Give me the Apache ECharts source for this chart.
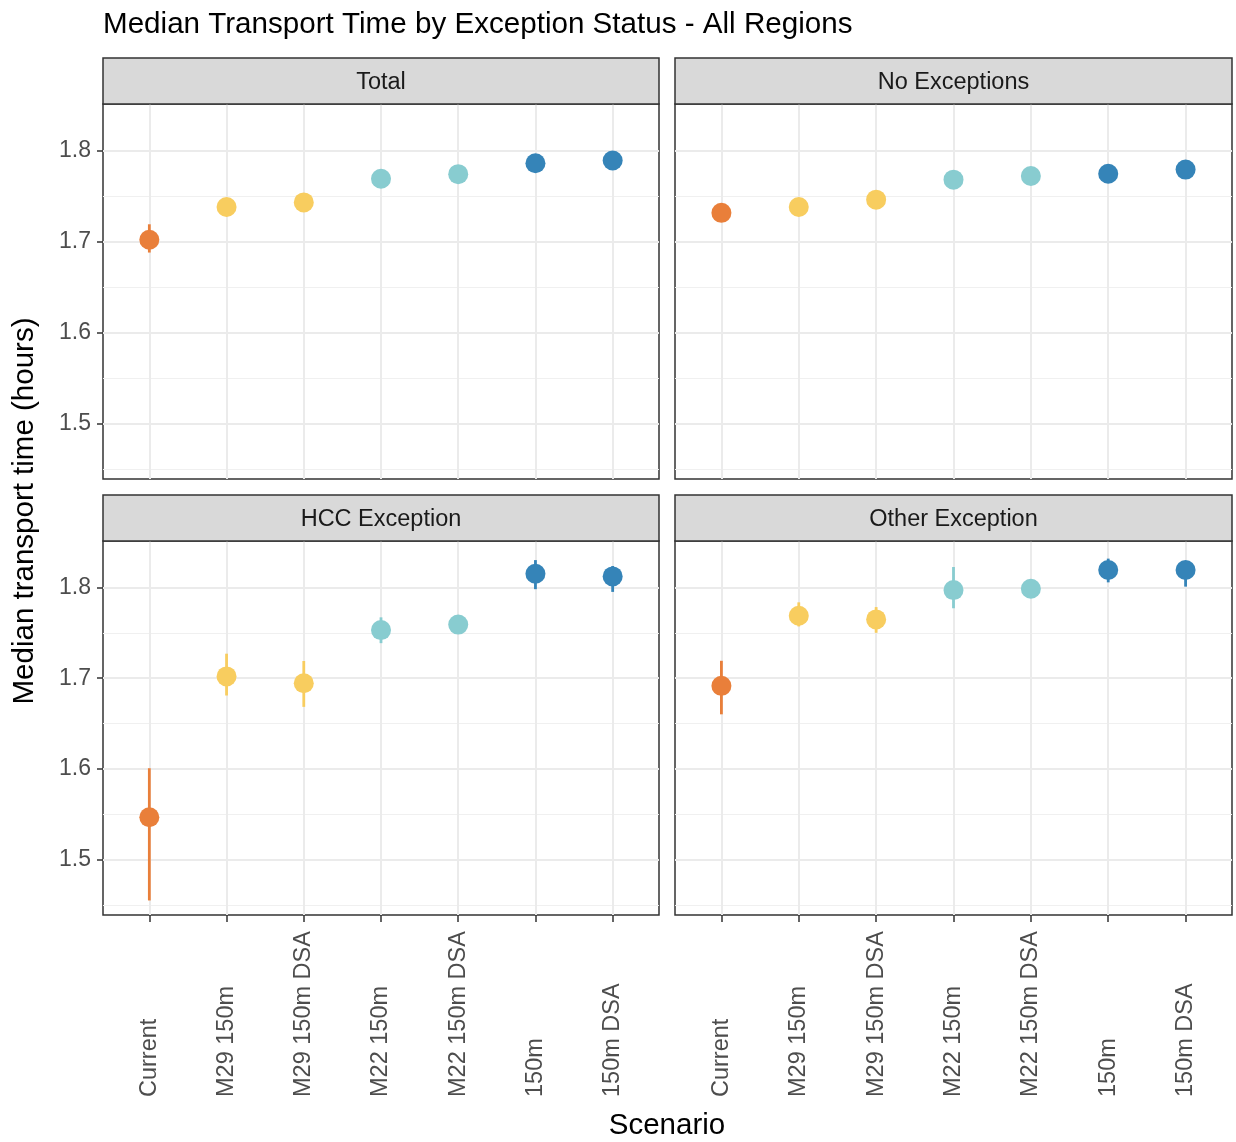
<!DOCTYPE html>
<html>
<head>
<meta charset="utf-8">
<script src="https://cdn.jsdelivr.net/npm/echarts@6/dist/echarts.min.js"></script>
<style>html,body{margin:0;padding:0;background:#fff;}#c{width:1236px;height:1142px;}</style>
</head>
<body>
<div id="c"></div>
<script>
const categories = ['Current','M29 150m','M29 150m DSA','M22 150m','M22 150m DSA','150m','150m DSA'];
const panels = ['Total','No Exceptions','HCC Exception','Other Exception'];
const yMajorTicks = [1.5,1.6,1.7,1.8];
const yMinorTicks = [1.45,1.55,1.65,1.75];

const totalMedian = [1.702,1.738,1.743,1.769,1.774,1.786,1.789];
const totalLo     = [1.688,1.733,1.738,1.764,1.769,1.781,1.784];
const totalHi     = [1.719,1.743,1.748,1.774,1.779,1.791,1.794];

const noExcMedian = [1.7316,1.738,1.746,1.768,1.772,1.7745,1.779];
const noExcLo     = [1.726,1.733,1.741,1.763,1.767,1.769,1.774];
const noExcHi     = [1.737,1.743,1.751,1.773,1.777,1.780,1.784];

const hccMedian = [1.547,1.702,1.6945,1.753,1.759,1.815,1.812];
const hccLo     = [1.4555,1.681,1.6685,1.7386,1.752,1.798,1.795];
const hccHi     = [1.601,1.727,1.719,1.767,1.766,1.830,1.8235];

const otherMedian = [1.6916,1.7688,1.7647,1.797,1.7985,1.8191,1.8191];
const otherLo     = [1.6603,1.757,1.750,1.777,1.791,1.8055,1.8008];
const otherHi     = [1.7192,1.7835,1.7783,1.8224,1.806,1.8316,1.829];

const pointColors = ['#E97F3A','#F8CD5F','#F8CD5F','#88CCD0','#88CCD0','#3584B8','#3584B8'];

const panelData = [
  [totalMedian,totalLo,totalHi],
  [noExcMedian,noExcLo,noExcHi],
  [hccMedian,hccLo,hccHi],
  [otherMedian,otherLo,otherHi]
];

const FONT = "'Liberation Sans', Arial, sans-serif";
const gridBoxes = [
  {left:103, top:104, width:556, height:375},
  {left:675, top:104, width:557, height:375},
  {left:103, top:541, width:556, height:374},
  {left:675, top:541, width:557, height:374}
];
const catIdx = categories.map((c,i)=>i);
const Y_MIN = 1.4395, Y_MAX = 1.851;

const grids = gridBoxes.map(b => Object.assign({show:true, borderColor:'#333', borderWidth:1.5, backgroundColor:'#fff', containLabel:false}, b));

const xAxes = gridBoxes.map((b,i) => {
  const bottom = i >= 2;
  return {
    type:'value', gridIndex:i, min:-0.6, max:6.6, position:'bottom',
    axisLine:{show:false, onZero:false},
    axisTick:{show:bottom, length:7, lineStyle:{color:'#333', width:1.5}, customValues:catIdx},
    axisLabel:{show:bottom, customValues:catIdx, rotate:90, align:'left', margin:182, color:'#4D4D4D', fontSize:23.5, fontFamily:FONT,
      formatter:v => categories[Math.round(v)]},
    splitLine:{show:true, lineStyle:{color:'#EBEBEB', width:2}}
  };
});

const yAxes = [];
gridBoxes.forEach((b,i) => {
  const left = (i % 2 === 0);
  yAxes.push({
    type:'value', gridIndex:i, min:Y_MIN, max:Y_MAX, position:'left',
    axisLine:{show:false, onZero:false},
    axisTick:{show:left, length:6, lineStyle:{color:'#333', width:1.5}, customValues:yMajorTicks},
    axisLabel:{show:left, customValues:yMajorTicks, margin:12, color:'#4D4D4D', fontSize:23, fontFamily:FONT,
      formatter:v => v.toFixed(1)},
    splitLine:{show:true, lineStyle:{color:'#EBEBEB', width:2}}
  });
});
gridBoxes.forEach((b,i) => {
  yAxes.push({
    type:'value', gridIndex:i, min:Y_MIN, max:Y_MAX, position:'left',
    axisLine:{show:false, onZero:false},
    axisTick:{show:false, customValues:yMinorTicks},
    axisLabel:{show:false, customValues:yMinorTicks},
    splitLine:{show:true, lineStyle:{color:'#F0F0F0', width:1.2}}
  });
});

const series = [];
panelData.forEach((pd,i) => {
  const [med, lo, hi] = pd;
  series.push({
    type:'custom', xAxisIndex:i, yAxisIndex:i, z:3,
    data: categories.map((c,j)=>[j, lo[j], hi[j]]),
    encode:{x:0, y:[1,2]},
    renderItem:(params, api) => {
      const x = api.value(0);
      const p1 = api.coord([x, api.value(1)]);
      const p2 = api.coord([x, api.value(2)]);
      return {type:'line', shape:{x1:p1[0], y1:p1[1], x2:p2[0], y2:p2[1]},
        style:{stroke:pointColors[x], lineWidth:2.8}};
    }
  });
  series.push({
    type:'scatter', xAxisIndex:i, yAxisIndex:i, z:4,
    symbol:'circle', symbolSize:20,
    data: categories.map((c,j)=>[j, med[j]]),
    itemStyle:{color:p => pointColors[p.dataIndex], opacity:1}
  });
});

const graphics = [];
gridBoxes.forEach((b,i) => {
  const top = b.top - 46;
  graphics.push({type:'rect', shape:{x:b.left, y:top, width:b.width, height:46},
    style:{fill:'#D9D9D9', stroke:'#333', lineWidth:1.5}, z:10});
  graphics.push({type:'text', x:b.left + b.width/2, y:top + 25,
    style:{text:panels[i], textAlign:'center', textVerticalAlign:'middle', fill:'#1A1A1A', font:"23.5px " + FONT}, z:11});
});
graphics.push({type:'text', x:25, y:511, rotation:Math.PI/2,
  style:{text:'Median transport time (hours)', textAlign:'center', textVerticalAlign:'middle', fill:'#000', font:"29.5px " + FONT}});
graphics.push({type:'text', x:667, y:1126,
  style:{text:'Scenario', textAlign:'center', textVerticalAlign:'middle', fill:'#000', font:"29.5px " + FONT}});

const chart = echarts.init(document.getElementById('c'), null, {renderer:'canvas'});
chart.setOption({
  animation:false,
  backgroundColor:'#fff',
  title:{text:'Median Transport Time by Exception Status - All Regions', left:103, top:10, padding:0,
    textStyle:{fontSize:29.6, fontWeight:'normal', color:'#000', fontFamily:FONT}},
  grid:grids, xAxis:xAxes, yAxis:yAxes, series:series, graphic:graphics
});
</script>
</body>
</html>
